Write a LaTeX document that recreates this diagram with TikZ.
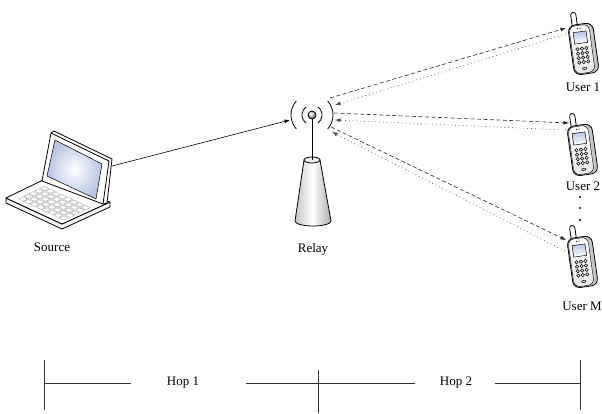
\documentclass[tikz,border=0pt]{standalone}
\usepackage{fontspec}
\setmainfont{Liberation Serif}
\usetikzlibrary{arrows.meta}
\definecolor{scr}{rgb}{0.72,0.77,0.90}
\begin{document}
\begin{tikzpicture}[x=1pt,y=-1pt]
\tikzset{
  lbl/.style={font=\fontsize{13}{15}\selectfont, inner sep=0pt},
  wire/.style={line width=0.6pt, draw=black!85},
  tip/.style={-{Latex[length=5.5pt,width=4pt]}},
  fwd/.style={wire, tip, dash pattern=on 4pt off 2.5pt},
  ret/.style={wire, tip, draw=black!70, dash pattern=on 0.8pt off 3pt},
  outline/.style={draw=black, line width=0.8pt, line join=round},
  keycap/.style={draw=gray!70, line width=0.35pt},
  bar/.style={line width=0.6pt, draw=black!80},
  cellphone/.pic={
    % antenna
    \draw[outline, fill=white] (-7.5,-23) -- (-7.5,-35) arc (180:360:2.6) -- (-2.3,-23);
    % shell
    \draw[outline, fill=gray!45, rounded corners=7] (-12,-25) rectangle (13,25);
    % front face
    \shade[top color=white, bottom color=gray!20, draw=black, line width=0.4pt, rounded corners=6] (-11,-24) rectangle (9,24);
    % speaker
    \fill (-2.5,-21) circle (0.6) (0,-21) circle (0.6);
    % display
    \shade[draw=black, line width=0.5pt, top color=scr, bottom color=white] (-7.5,-17.5) rectangle (5.5,-6);
    % keypad
    \foreach \i in {0,1,2}{\foreach \j in {0,1,2,3}{
      \draw[fill=gray!25, line width=0.5pt] (-5.5+4.5*\i,-0.5+4.5*\j) circle (1.7);}}
    \draw[line width=0.5pt] (-1,19.5) ellipse (2.2 and 1.1);
  }
}
\useasboundingbox (0,0) rectangle (602,413);

% ---------- laptop (source) ----------
\draw[outline, fill=gray!10] (6,198) -- (6,203) -- (62,229) -- (110,207) -- (110,202) -- (62,224) -- cycle;
\draw[outline, fill=white] (6,198) -- (43,180) -- (110,202) -- (62,224) -- cycle;
\foreach \a in {0,...,7}{\foreach \b in {0,...,4}{
  \pgfmathsetmacro\sa{0.13+0.105*\a}
  \pgfmathsetmacro\sb{0.14+0.145*\b}
  \pgfmathsetmacro\sc{\sa+0.085}
  \pgfmathsetmacro\sd{\sb+0.115}
  \draw[keycap] ({6+56*\sa+37*\sb},{198+26*\sa-18*\sb}) -- ({6+56*\sc+37*\sb},{198+26*\sc-18*\sb})
    -- ({6+56*\sc+37*\sd},{198+26*\sc-18*\sd}) -- ({6+56*\sa+37*\sd},{198+26*\sa-18*\sd}) -- cycle;
}}
\draw[outline, fill=white] (42,181) -- (51,133) -- (54,131) -- (112,159) -- (107,203) -- (103,204) -- cycle;
\draw[outline] (51,133) -- (109,161) -- (103,204);
\shade[draw=black, line width=0.5pt, inner color=white, outer color=scr] (55,140) -- (102,164) -- (96,199) -- (47,176) -- cycle;
\coordinate (srcport) at (112,166);
\node[lbl] (source) at (52,247) {Source};

% ---------- relay ----------
\coordinate (relay) at (312,115);
\coordinate (relayin) at (290,120);
\coordinate (mastfoot) at (312,160);
\shade[draw=black, line width=0.8pt, left color=gray!45, right color=gray!65, middle color=white]
  (304,160) -- (295,221) arc (180:0:18 and 5) -- (320,160) -- cycle;
\draw[line width=0.8pt, fill=gray!15] (mastfoot) ellipse (8 and 3);
\node[circle, draw, line width=0.8pt, minimum size=8pt, inner sep=0pt, ball color=gray!25] (ball) at (relay) {};
\draw[line width=1pt] (ball.south) -- (mastfoot);
\draw[line width=0.8pt] (relay) ++(138:21) arc (138:222:21);
\draw[line width=0.8pt] (relay) ++(-42:21) arc (-42:42:21);
\draw[line width=0.8pt] (relay) ++(127:10) arc (127:233:10);
\draw[line width=0.8pt] (relay) ++(-53:10) arc (-53:53:10);
\node[lbl] (relaylabel) at (313,249) {Relay};

\draw[wire, tip, draw=black] (srcport) -- (relayin);

% ---------- users ----------
\pic[rotate=8] (user1) at (583,49) {cellphone};
\pic[rotate=8] (user2) at (582,150) {cellphone};
\pic[rotate=8] (userM) at (582,262) {cellphone};
\node[lbl] (l1) at (583,87) {User 1};
\node[lbl] (l2) at (583,186) {User 2};
\node[lbl] (lM) at (582,306) {User M};
\foreach \y in {197,208,220}{\fill (580,\y) circle (1.2);}

% ---------- links ----------
\coordinate (r1out) at (330,98);  \coordinate (r1in) at (335,105);
\coordinate (u1in) at (566,28);   \coordinate (u1out) at (566,34);
\coordinate (r2out) at (334,113); \coordinate (r2in) at (335,120);
\coordinate (u2in) at (569,123);  \coordinate (u2out) at (566,130);
\coordinate (r3out) at (331,127); \coordinate (r3in) at (332,132);
\coordinate (u3in) at (566,240);  \coordinate (u3out) at (565,251);
\draw[fwd] (r1out) -- (u1in);
\draw[ret] (u1out) -- (r1in);
\draw[fwd] (r2out) -- (u2in);
\draw[ret] (u2out) -- (r2in);
\draw[fwd] (r3out) -- (u3in);
\draw[ret] (u3out) -- (r3in);

% ---------- hop scale ----------
\coordinate (hL) at (44,383);
\coordinate (hM) at (318,383);
\coordinate (hR) at (580,383);
\coordinate (h1a) at (131,383);
\coordinate (h1b) at (246,383);
\coordinate (h2a) at (415,383);
\coordinate (h2b) at (495,383);
\node[lbl] (hop1) at (183,383) {Hop 1};
\node[lbl] (hop2) at (456,383) {Hop 2};
\draw[bar] (hL) -- (h1a);
\draw[bar] (h1b) -- (h2a);
\draw[bar] (h2b) -- (hR);
\draw[bar] (hL) ++(0,-23) -- ++(0,50);
\draw[bar] (hR) ++(0,-23) -- ++(0,50);
\draw[bar] (hM) ++(0,-13) -- ++(0,43);
\end{tikzpicture}
\end{document}
